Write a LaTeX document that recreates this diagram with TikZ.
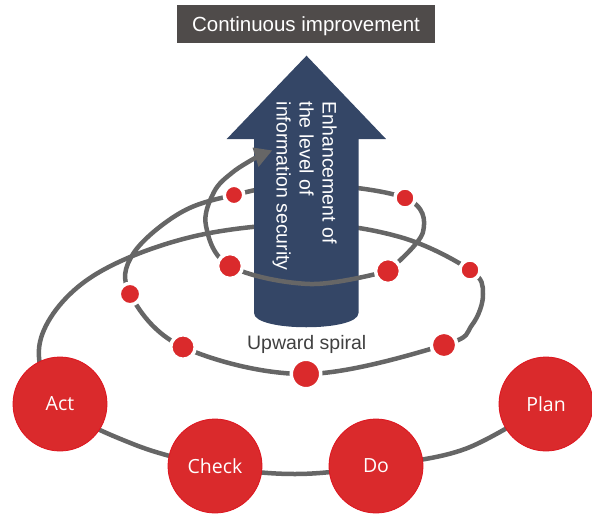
\documentclass[tikz,border=0pt]{standalone}
\usepackage{fontspec}
\setmainfont{Liberation Sans}
\newfontfamily\pdcafont{Open Sans}
\usetikzlibrary{arrows.meta}
\definecolor{titlegray}{RGB}{79,75,74}
\definecolor{navy}{RGB}{52,70,102}
\definecolor{linegray}{RGB}{102,102,102}
\definecolor{pdcared}{RGB}{218,42,44}
\definecolor{rededge}{RGB}{222,20,30}
\definecolor{textgray}{RGB}{64,64,64}
\begin{document}
\begin{tikzpicture}[x=1pt,y=-1pt,
  spiral/.style={draw=linegray, line width=4.5pt},
  pdca/.style={circle, fill=pdcared, draw=rededge, line width=0.8pt, minimum size=94pt, inner sep=0pt, text=white, text depth=0pt, font=\pdcafont\fontsize{19.5}{23}\selectfont},
  reddot/.style={circle, fill=pdcared, draw=white, line width=3.5pt, inner sep=0pt, minimum size={2*#1+3.5}},
]
\useasboundingbox (0,0) rectangle (592,515);
% positions
\coordinate (cPlan) at (546,404);
\coordinate (cDo) at (376,466);
\coordinate (cCheck) at (215,466);
\coordinate (cAct) at (60,404);
\coordinate (d1) at (470,270);
\coordinate (d2) at (444,345);
\coordinate (d3) at (306,374);
\coordinate (d4) at (183,347);
\coordinate (d5) at (130,294);
\coordinate (d6) at (234,195);
\coordinate (d7) at (405,198);
\coordinate (d8) at (388,271);
\coordinate (d9) at (230,266);
\coordinate (tipbase) at (256,157.5);
\coordinate (tip) at (272,150.5);
% spiral, back part
\draw[spiral] plot[smooth, tension=0.6] coordinates {(cPlan) (465,449) (cDo) (295,474) (cCheck) (133,444) (cAct) (40,342) (87,280) (187,238) (306,224) (400,237) (d1) (483,294) (472,325) (d2) (d3) (d4) (d5) (133,254) (180,213) (d6) (306,184) (d7) (423,232) (d8)};
% big arrow
\fill[navy] (254,313) -- (254,139) -- (226.7,139) -- (306.5,55.7) -- (386,139) -- (358.5,139) -- (358.5,313) .. controls (358.5,332) and (254,332) .. (254,313) -- cycle;
\node[rotate=-90, anchor=north west, inner sep=0pt, align=left, text=white, font=\fontsize{19.5}{23}\selectfont] (enh) at (337,101.5) {Enhancement of\\the level of\\information security};
% spiral, front part
\draw[spiral] plot[smooth, tension=0.6] coordinates {(d8) (310,284) (d9) (206,226) (214,192) (233,172) (tipbase)};
\fill[linegray] (tip) -- (252.5,147.5) -- (258.5,167) -- cycle;
% dots
\node[reddot=8.3] (n1) at (d1) {};
\node[reddot=11] (n2) at (d2) {};
\node[reddot=13] (n3) at (d3) {};
\node[reddot=10.5] (n4) at (d4) {};
\node[reddot=9] (n5) at (d5) {};
\node[reddot=8] (n6) at (d6) {};
\node[reddot=8.3] (n7) at (d7) {};
\node[reddot=10.7] (n8) at (d8) {};
\node[reddot=10.7] (n9) at (d9) {};
% PDCA circles
\node[pdca] (plan) at (cPlan) {Plan};
\node[pdca] (do) at (cDo) {Do};
\node[pdca] (check) at (cCheck) {Check};
\node[pdca] (act) at (cAct) {Act};
% texts
\node[anchor=base, inner sep=0pt, text=textgray, font=\fontsize{19.5}{23}\selectfont] (up) at (306.7,349.3) {Upward spiral};
\node[fill=titlegray, minimum width=258pt, minimum height=38pt, inner sep=0pt, text=white, text depth=0pt, font=\fontsize{20.5}{24}\selectfont] (title) at (306,24) {Continuous improvement};
\end{tikzpicture}
\end{document}
